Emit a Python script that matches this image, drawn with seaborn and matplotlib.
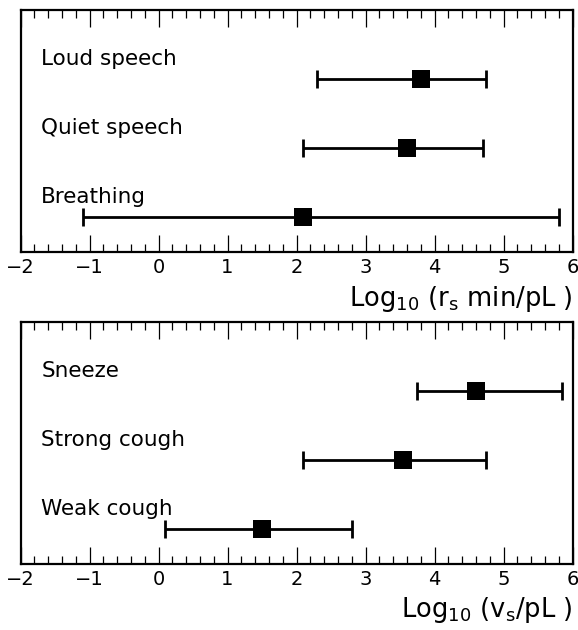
import matplotlib
matplotlib.use('Agg')
import matplotlib.pyplot as plt
import seaborn as sns
import pandas as pd
from matplotlib.ticker import MultipleLocator

# 데이터 (log10 값)
top_labels = ['Loud speech', 'Quiet speech', 'Breathing']
top_center = [3.8, 3.6, 2.1]
top_low = [2.3, 2.1, -1.1]
top_high = [4.75, 4.7, 5.8]

bot_labels = ['Sneeze', 'Strong cough', 'Weak cough']
bot_center = [4.6, 3.55, 1.5]
bot_low = [3.75, 2.1, 0.1]
bot_high = [5.85, 4.75, 2.8]

row_pos = [3, 2, 1]

sns.set_style('ticks', {'axes.edgecolor': 'black', 'text.color': 'black',
                        'xtick.color': 'black', 'axes.labelcolor': 'black'})
plt.rcParams['font.family'] = ['DejaVu Sans']
plt.rcParams['mathtext.default'] = 'regular'

fig = plt.figure(figsize=(5.78, 6.3), dpi=100)
ax1 = fig.add_axes([0.0355, 0.600, 0.955, 0.384])
ax2 = fig.add_axes([0.0355, 0.1048, 0.955, 0.3833])


def draw_panel(ax, labels, center, low, high, xlabel):
    df = pd.DataFrame({'label': labels, 'x': center, 'y': row_pos,
                       'lo': low, 'hi': high})
    err = [df['x'] - df['lo'], df['hi'] - df['x']]
    ax.errorbar(df['x'], df['y'], xerr=err, fmt='none', ecolor='black',
                elinewidth=2.0, capsize=6.5, capthick=2.0, zorder=2)
    sns.scatterplot(data=df, x='x', y='y', marker='s', s=160, color='black',
                    edgecolor='black', linewidth=0, ax=ax, zorder=3)
    for _, r in df.iterrows():
        ax.text(-1.7, r['y'] + 0.29, r['label'], ha='left', va='center',
                fontsize=15.5, color='black')
    ax.set_xlim(-2, 6)
    ax.set_ylim(0.5, 4.0)
    ax.set_yticks([])
    ax.set_ylabel('')
    ax.xaxis.set_major_locator(MultipleLocator(1))
    ax.xaxis.set_minor_locator(MultipleLocator(0.2))
    ax.tick_params(axis='x', which='major', direction='in', top=True,
                   length=12.5, width=0.9, labelsize=14, pad=4,
                   color='black', labelcolor='black')
    ax.tick_params(axis='x', which='minor', direction='in', top=True,
                   length=5.5, width=0.9, color='black')
    for sp in ax.spines.values():
        sp.set_visible(True)
        sp.set_linewidth(1.6)
        sp.set_color('black')
    ax.set_xlabel(xlabel, loc='right', fontsize=18.5, labelpad=5,
                  color='black')


draw_panel(ax1, top_labels, top_center, top_low, top_high,
           r'Log$_{10}$ (r$_{s}$ min/pL )')
draw_panel(ax2, bot_labels, bot_center, bot_low, bot_high,
           r'Log$_{10}$ (v$_{s}$/pL )')

plt.savefig('out.png', dpi=100)
